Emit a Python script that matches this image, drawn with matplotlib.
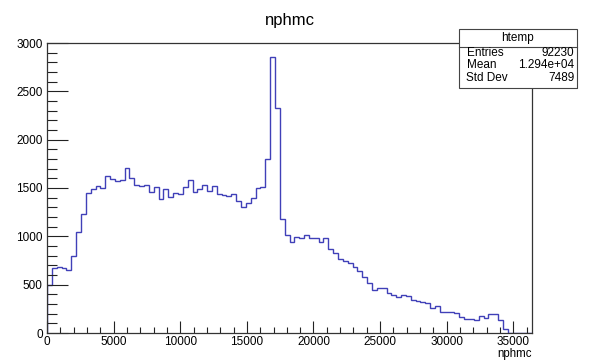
import numpy as np
import matplotlib
matplotlib.use("Agg")
import matplotlib.pyplot as plt
from matplotlib.patches import Rectangle
from matplotlib.ticker import MultipleLocator

plt.rcParams['font.family'] = ['Liberation Sans', 'DejaVu Sans']

# ---- data ----
title = "nphmc"
xlabel = "nphmc"
bin_low = 0.0
bin_high = 36400.0
counts = [
    495, 672, 686, 670, 648, 800, 1041, 1231, 1445, 1486,
    1517, 1503, 1624, 1593, 1572, 1579, 1703, 1607, 1534, 1521,
    1527, 1462, 1507, 1383, 1493, 1403, 1450, 1438, 1507, 1579,
    1455, 1493, 1527, 1469, 1517, 1434, 1427, 1421, 1434, 1370,
    1305, 1341, 1395, 1498, 1506, 1798, 2860, 2324, 1176, 1010,
    940, 988, 982, 1010, 980, 986, 938, 979, 869, 824,
    762, 748, 721, 679, 645, 583, 521, 445, 462, 465,
    410, 393, 369, 398, 386, 341, 334, 317, 307, 255,
    283, 221, 214, 221, 203, 169, 145, 145, 134, 176,
    152, 193, 197, 134, 38, 0, 0, 0, 0, 0,
]
stats_name = "htemp"
stats_labels = ["Entries", "Mean", "Std Dev"]
stats_values = ["92230", "1.294e+04", "7489"]

# ---- figure ----
W, H = 592, 360
fig = plt.figure(figsize=(W / 100, H / 100), dpi=100)
L, R, T, B = 47, 532, 43, 333
ax = fig.add_axes([L / W, 1 - B / H, (R - L) / W, (B - T) / H])

edges = np.linspace(bin_low, bin_high, len(counts) + 1)
ax.stairs(counts, edges, baseline=0, color='#4040b8', linewidth=1.0)

ax.set_xlim(bin_low, bin_high)
ax.set_ylim(0, 3000)

ax.xaxis.set_major_locator(MultipleLocator(5000))
ax.xaxis.set_minor_locator(MultipleLocator(1000))
ax.yaxis.set_major_locator(MultipleLocator(500))
ax.yaxis.set_minor_locator(MultipleLocator(100))

ax.tick_params(axis='x', which='major', direction='in', length=9, width=0.8,
               labelsize=8.5, pad=2.5, colors='#222222')
ax.tick_params(axis='x', which='minor', direction='in', length=4.5, width=0.8,
               colors='#222222')
ax.tick_params(axis='y', which='major', direction='in', length=15, width=0.8,
               labelsize=8.5, pad=3, colors='#222222')
ax.tick_params(axis='y', which='minor', direction='in', length=7.5, width=0.8,
               colors='#222222')
ax.tick_params(top=False, right=False, which='both')
for s in ax.spines.values():
    s.set_linewidth(0.9)
    s.set_color('#333333')
for lab in ax.get_xticklabels() + ax.get_yticklabels():
    lab.set_color('black')

# axis label at bottom right
fig.text(R / W, 1 - 354.5 / H, xlabel, ha='right', va='center', fontsize=8.3)

# title
fig.text(290 / W, 1 - 20 / H, title, ha='center', va='center', fontsize=12)

# stats box
bx0, bx1, by0, by1, bsep = 459, 577, 29.3, 88.3, 46.7
shadow = Rectangle(((bx0 + 1) / W, 1 - (by1 + 1) / H), (bx1 - bx0) / W,
                   (by1 - by0) / H, transform=fig.transFigure,
                   facecolor='#555555', edgecolor='none', zorder=4)
box = Rectangle((bx0 / W, 1 - by1 / H), (bx1 - bx0) / W, (by1 - by0) / H,
                transform=fig.transFigure, facecolor='white',
                edgecolor='#444444', linewidth=0.8, zorder=5)
fig.patches.extend([shadow, box])
fig.add_artist(plt.Line2D([bx0 / W, bx1 / W], [1 - bsep / H, 1 - bsep / H],
                          transform=fig.transFigure, color='#444444',
                          linewidth=0.8, zorder=6))
fig.text((bx0 + bx1) / 2 / W, 1 - 38.3 / H, stats_name, ha='center',
         va='center', fontsize=8.5, zorder=7)
row_y = [52.7, 65.2, 77.7]
for lab, val, yy in zip(stats_labels, stats_values, row_y):
    fig.text(466.5 / W, 1 - yy / H, lab, ha='left', va='center',
             fontsize=8.5, zorder=7)
    fig.text(574.5 / W, 1 - yy / H, val, ha='right', va='center',
             fontsize=8.5, zorder=7)

fig.savefig("out.png", dpi=100, facecolor='white')
